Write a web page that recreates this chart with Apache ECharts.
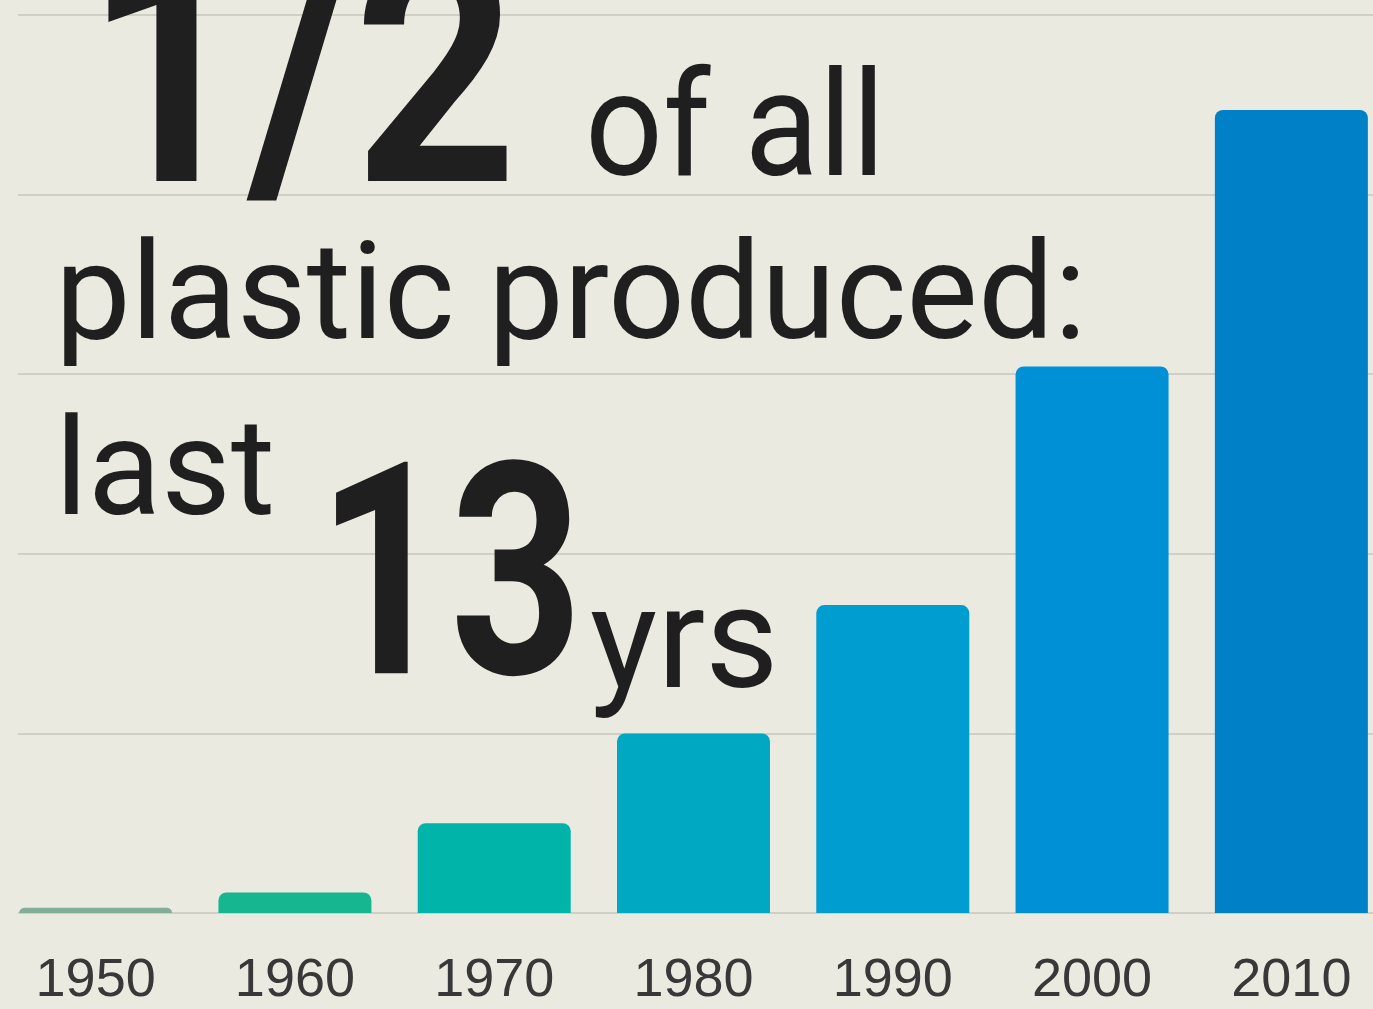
<!DOCTYPE html>
<html>
<head>
<meta charset="utf-8">
<script src="https://cdn.jsdelivr.net/npm/echarts@6/dist/echarts.min.js"></script>
<style>
html,body{margin:0;padding:0;background:#ebeae0;}
#main{width:1373px;height:1009px;}
</style>
</head>
<body>
<div id="main"></div>
<script>
const years = ['1950','1960','1970','1980','1990','2000','2010'];
const production = [2, 8, 35, 70, 120, 213, 313];
const barColors = ['#82ad98','#16b690','#00b4aa','#00a8c2','#009dd0','#0090d6','#0080c6'];
const yTicks = [0, 70, 140, 210, 280, 350];

const chart = echarts.init(document.getElementById('main'));
const txt = (text, x, y, font, sx) => ({
  type: 'text', z: 10, x: x, y: y, scaleX: sx || 1,
  style: {text: text, x: 0, y: 0, font: font, fill: '#1f1f1f', verticalAlign: 'middle'}
});
const option = {
  backgroundColor: '#ebeae0',
  animation: false,
  grid: [
    {left: -4, width: 1395, top: 15, bottom: 96, outerBoundsMode: 'none', containLabel: false},
    {left: 18, right: 0, top: 15, bottom: 96, outerBoundsMode: 'none', containLabel: false}
  ],
  xAxis: [
    {type: 'category', data: years, gridIndex: 0,
     axisLine: {show: false}, axisTick: {show: false},
     axisLabel: {fontFamily: '"Liberation Sans Narrow", "Liberation Sans", sans-serif', fontSize: 54, color: '#383838', margin: 41}},
    {type: 'value', gridIndex: 1, min: 0, max: 1, show: false}
  ],
  yAxis: [
    {type: 'value', gridIndex: 0, min: yTicks[0], max: yTicks[yTicks.length-1], interval: 70, show: false, splitLine: {show: false}},
    {type: 'value', gridIndex: 1, min: yTicks[0], max: yTicks[yTicks.length-1], interval: 70,
     axisLine: {show: false}, axisTick: {show: false}, axisLabel: {show: false},
     splitLine: {show: true, lineStyle: {color: '#d0cfc5', width: 2}}}
  ],
  series: [{
    type: 'bar', xAxisIndex: 0, yAxisIndex: 0, z: 3,
    barWidth: 153,
    data: production.map((v, i) => ({value: v, itemStyle: {color: barColors[i]}})),
    itemStyle: {borderRadius: [8, 8, 0, 0]}
  }],
  graphic: [
    txt('1/2', 85, 101, 'bold 320px Roboto', 0.89),
    txt('of all', 585, 138, '147px Roboto', 0.93),
    txt('plastic produced:', 55, 304, '135px Roboto', 1),
    txt('last', 55, 480, '135px Roboto', 1),
    txt('13', 317, 599, 'bold 297px Roboto', 0.78),
    txt('yrs', 590, 651, '142px Roboto', 1)
  ]
};
chart.setOption(option);
</script>
</body>
</html>
